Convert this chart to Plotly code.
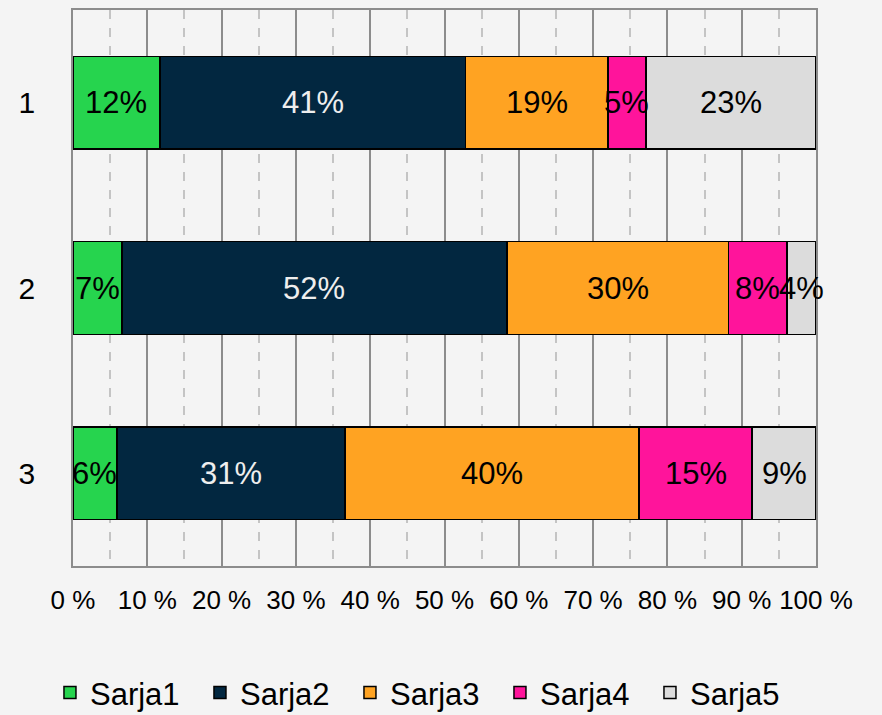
import plotly.graph_objects as go

categories = ["1", "2", "3"]
series_names = ["Sarja1", "Sarja2", "Sarja3", "Sarja4", "Sarja5"]
sarja1 = [11.7, 6.6, 5.9]
sarja2 = [41.1, 51.8, 30.7]
sarja3 = [19.2, 29.8, 39.6]
sarja4 = [5.1, 7.9, 15.2]
sarja5 = [22.9, 3.9, 8.6]
tick_vals = [0, 10, 20, 30, 40, 50, 60, 70, 80, 90, 100]
tick_text = ["0 %", "10 %", "20 %", "30 %", "40 %", "50 %", "60 %", "70 %", "80 %", "90 %", "100 %"]

colors = ["#26d44e", "#022740", "#ffa322", "#ff149b", "#dcdcdc"]
text_colors = ["#000000", "#eeeeee", "#000000", "#000000", "#000000"]
values = [sarja1, sarja2, sarja3, sarja4, sarja5]

FONT = "Liberation Sans, Arial, sans-serif"

fig = go.Figure()
for name, vals, col in zip(series_names, values, colors):
    fig.add_trace(go.Bar(
        name=name, y=categories, x=vals, orientation="h",
        marker=dict(color=col, line=dict(color="#000000", width=1.5)),
        hoverinfo="x+name",
    ))

# data labels centred in each stacked segment (positions derived from the data;
# y given as the category index so the category axis places them on the bar)
for i, cat in enumerate(categories):
    base = 0.0
    for vals, tcol in zip(values, text_colors):
        v = vals[i]
        fig.add_annotation(
            x=base + v / 2, y=i, xref="x", yref="y",
            text=f"{v:.0f}%", showarrow=False,
            font=dict(family=FONT, size=31, color=tcol),
            xanchor="center", yanchor="middle",
        )
        base += v

fig.update_layout(
    barmode="stack", bargap=0.5,
    width=882, height=715,
    paper_bgcolor="#f4f4f4", plot_bgcolor="#f4f4f4",
    margin=dict(l=73, r=66, t=10, b=149, autoexpand=False),
    font=dict(family=FONT, size=26, color="#000000"),
    legend=dict(orientation="h", x=-0.031, xanchor="left", y=-0.228, yanchor="middle",
                font=dict(family=FONT, size=31), traceorder="normal",
                itemwidth=30, entrywidth=105, bgcolor="rgba(0,0,0,0)"),
    showlegend=True,
)
fig.update_xaxes(
    range=[0, 100], tickvals=tick_vals, ticktext=tick_text,
    showgrid=True, gridcolor="#8c8c8c", gridwidth=1.5,
    minor=dict(dtick=5, showgrid=True, gridcolor="#c4c4c4", griddash="dash", gridwidth=1.5),
    showline=True, linecolor="#8c8c8c", linewidth=1.5, mirror=True,
    ticks="", ticklabelstandoff=10, tickfont=dict(family=FONT, size=26), zeroline=False,
)
fig.update_yaxes(
    type="category", range=[len(categories) - 0.5, -0.5], showgrid=False,
    showline=True, linecolor="#8c8c8c", linewidth=1.5, mirror=True,
    ticks="", ticklabelstandoff=30, tickfont=dict(family=FONT, size=30),
)

fig.write_html("out.html", config={"displayModeBar": False},
               post_script="document.body.style.margin='0';document.body.style.padding='0';")
